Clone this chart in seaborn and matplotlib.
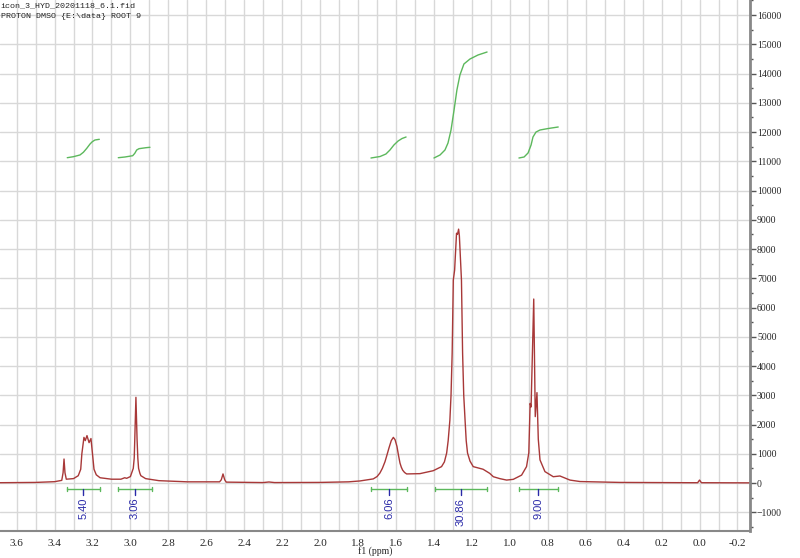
import numpy as np
import pandas as pd
import matplotlib
matplotlib.use("Agg")
import matplotlib.pyplot as plt
import seaborn as sns
from matplotlib.ticker import MultipleLocator, FuncFormatter

# 1H NMR spectrum (ppm, intensity)
spec_ppm = [3.69, 3.50, 3.40, 3.362, 3.355, 3.350, 3.345, 3.338, 3.30, 3.275,
            3.262, 3.256, 3.245, 3.238, 3.229, 3.218, 3.208, 3.200, 3.192, 3.18,
            3.16, 3.10, 3.05, 3.03, 3.02, 3.00, 2.985, 2.980, 2.977, 2.971,
            2.965, 2.961, 2.957, 2.950, 2.945, 2.92, 2.85, 2.70, 2.53, 2.521,
            2.512, 2.503, 2.495, 2.30, 2.27, 2.24, 2.00, 1.85, 1.79, 1.72,
            1.70, 1.685, 1.672, 1.658, 1.648, 1.637, 1.625, 1.614, 1.605, 1.595,
            1.587, 1.579, 1.572, 1.565, 1.555, 1.544, 1.474, 1.404, 1.360, 1.345,
            1.333, 1.325, 1.316, 1.310, 1.304, 1.298, 1.291, 1.281, 1.276, 1.270,
            1.266, 1.255, 1.249, 1.243, 1.236, 1.230, 1.223, 1.210, 1.193, 1.141,
            1.106, 1.087, 1.053, 1.017, 0.982, 0.938, 0.912, 0.900, 0.893, 0.888,
            0.874, 0.866, 0.857, 0.850, 0.841, 0.815, 0.771, 0.736, 0.683, 0.630,
            0.42, 0.05, 0.01, 0.0, -0.01, -0.27]
spec_int = [10, 20, 45, 90, 350, 820, 350, 130, 150, 250,
            470, 1000, 1560, 1450, 1620, 1380, 1520, 1000, 470, 280,
            180, 130, 130, 180, 160, 220, 500, 850, 1500, 2930,
            1500, 850, 500, 330, 250, 150, 80, 40, 40, 110,
            310, 110, 30, 15, 35, 15, 20, 40, 70, 140,
            220, 340, 500, 730, 950, 1200, 1450, 1560, 1480, 1250,
            950, 680, 540, 440, 360, 310, 320, 420, 560, 720,
            1025, 1450, 2150, 3000, 4440, 6940, 7280, 8540, 8500, 8680,
            8450, 6940, 4440, 3000, 2150, 1450, 1025, 750, 560, 470,
            330, 215, 150, 100, 125, 270, 560, 1030, 2720, 2600,
            6290, 2270, 3090, 1500, 790, 390, 215, 240, 100, 50,
            20, 10, 10, 100, 10, 5]

# integral traces
int1_ppm = [3.333, 3.301, 3.266, 3.248, 3.230, 3.213, 3.201, 3.187, 3.164]
int1_val = [11122, 11156, 11215, 11307, 11444, 11590, 11669, 11727, 11751]
int2_ppm = [3.064, 3.029, 2.988, 2.977, 2.967, 2.955, 2.940, 2.918, 2.897]
int2_val = [11122, 11146, 11190, 11272, 11385, 11430, 11444, 11464, 11478]
int3_ppm = [1.732, 1.684, 1.653, 1.632, 1.611, 1.589, 1.568, 1.547]
int3_val = [11112, 11163, 11249, 11385, 11557, 11693, 11779, 11830]
int4_ppm = [1.400, 1.368, 1.342, 1.326, 1.310, 1.294, 1.279, 1.263, 1.242, 1.210, 1.168, 1.120]
int4_val = [11112, 11215, 11385, 11624, 12069, 12753, 13437, 13950, 14326, 14497, 14633, 14736]
int5_ppm = [0.952, 0.925, 0.904, 0.888, 0.878, 0.862, 0.841, 0.798, 0.745]
int5_val = [11112, 11146, 11283, 11557, 11830, 12000, 12069, 12120, 12172]

# integration regions and values
reg_start = [3.336, 3.064, 1.733, 1.394, 0.950]
reg_end = [3.160, 2.888, 1.540, 1.122, 0.748]
reg_label = ["5.40", "3.06", "6.06", "30.86", "9.00"]

sns.set_style("white")
plt.rcParams["font.family"] = ["Liberation Serif", "DejaVu Serif"]

fig = plt.figure(figsize=(8, 5.58), dpi=100)
ax = fig.add_axes([0.0, 27 / 558, 750 / 800, 531 / 558])

spec_color = "#a83838"
green = "#5cb85c"
blue = "#2a2aa8"

df = pd.DataFrame({"ppm": spec_ppm, "int": spec_int})
sns.lineplot(data=df, x="ppm", y="int", ax=ax, color=spec_color, lw=1.0, sort=False)

for p, v in [(int1_ppm, int1_val), (int2_ppm, int2_val), (int3_ppm, int3_val),
             (int4_ppm, int4_val), (int5_ppm, int5_val)]:
    sns.lineplot(x=p, y=v, ax=ax, color=green, lw=1.0, sort=False)

# integration bars with labels
bar_y = -205
for s, e, lab in zip(reg_start, reg_end, reg_label):
    ax.plot([s, e], [bar_y, bar_y], color=green, lw=1.0)
    ax.plot([s, s], [bar_y - 60, bar_y + 60], color=green, lw=1.0)
    ax.plot([e, e], [bar_y - 60, bar_y + 60], color=green, lw=1.0)
    c = (s + e) / 2
    ax.plot([c, c], [bar_y, bar_y - 190], color=blue, lw=1.0)
    ax.text(c, bar_y - 300, lab, rotation=90, ha="center", va="top",
            color=blue, fontsize=8, family=["Liberation Sans", "DejaVu Sans"])

ax.set_xlim(3.6875, -0.266)
ax.set_ylim(-1641, 16514)

ax.xaxis.set_major_locator(MultipleLocator(0.1))
ax.xaxis.set_minor_locator(MultipleLocator(0.05))
ax.xaxis.set_major_formatter(FuncFormatter(
    lambda x, pos: (f"{x:.1f}" if int(round(x * 10)) % 2 == 0 else "")))
ax.yaxis.set_major_locator(MultipleLocator(1000))
ax.yaxis.set_minor_locator(MultipleLocator(500))
ax.yaxis.tick_right()

ax.grid(True, which="major", color="#d8d8d8", lw=1.0)
ax.tick_params(axis="x", which="major", direction="out", length=4, width=1,
               color="#555555", labelsize=8, pad=1.5)
ax.tick_params(axis="x", which="minor", direction="out", length=2, width=1,
               color="#555555")
ax.tick_params(axis="y", which="major", direction="out", length=4, width=1,
               color="#555555", labelsize=7, pad=1, right=True, left=False)
ax.tick_params(axis="y", which="minor", direction="out", length=2, width=1,
               color="#555555", right=True, left=False)

for side in ["left", "top"]:
    ax.spines[side].set_visible(False)
ax.spines["right"].set_color("#888888")
ax.spines["right"].set_linewidth(2)
ax.spines["bottom"].set_color("#888888")
ax.spines["bottom"].set_linewidth(1.5)

ax.set_xlabel("f1 (ppm)", fontsize=7, labelpad=-1)
ax.set_ylabel("")

fig.text(0.001, 0.995, "icon_3_HYD_20201118_6.1.fid", ha="left", va="top",
         fontsize=6, family=["Liberation Mono", "DejaVu Sans Mono"])
fig.text(0.001, 0.977, "PROTON DMSO {E:\\data} ROOT 9", ha="left", va="top",
         fontsize=6, family=["Liberation Mono", "DejaVu Sans Mono"])

fig.savefig("out.png", dpi=100)
